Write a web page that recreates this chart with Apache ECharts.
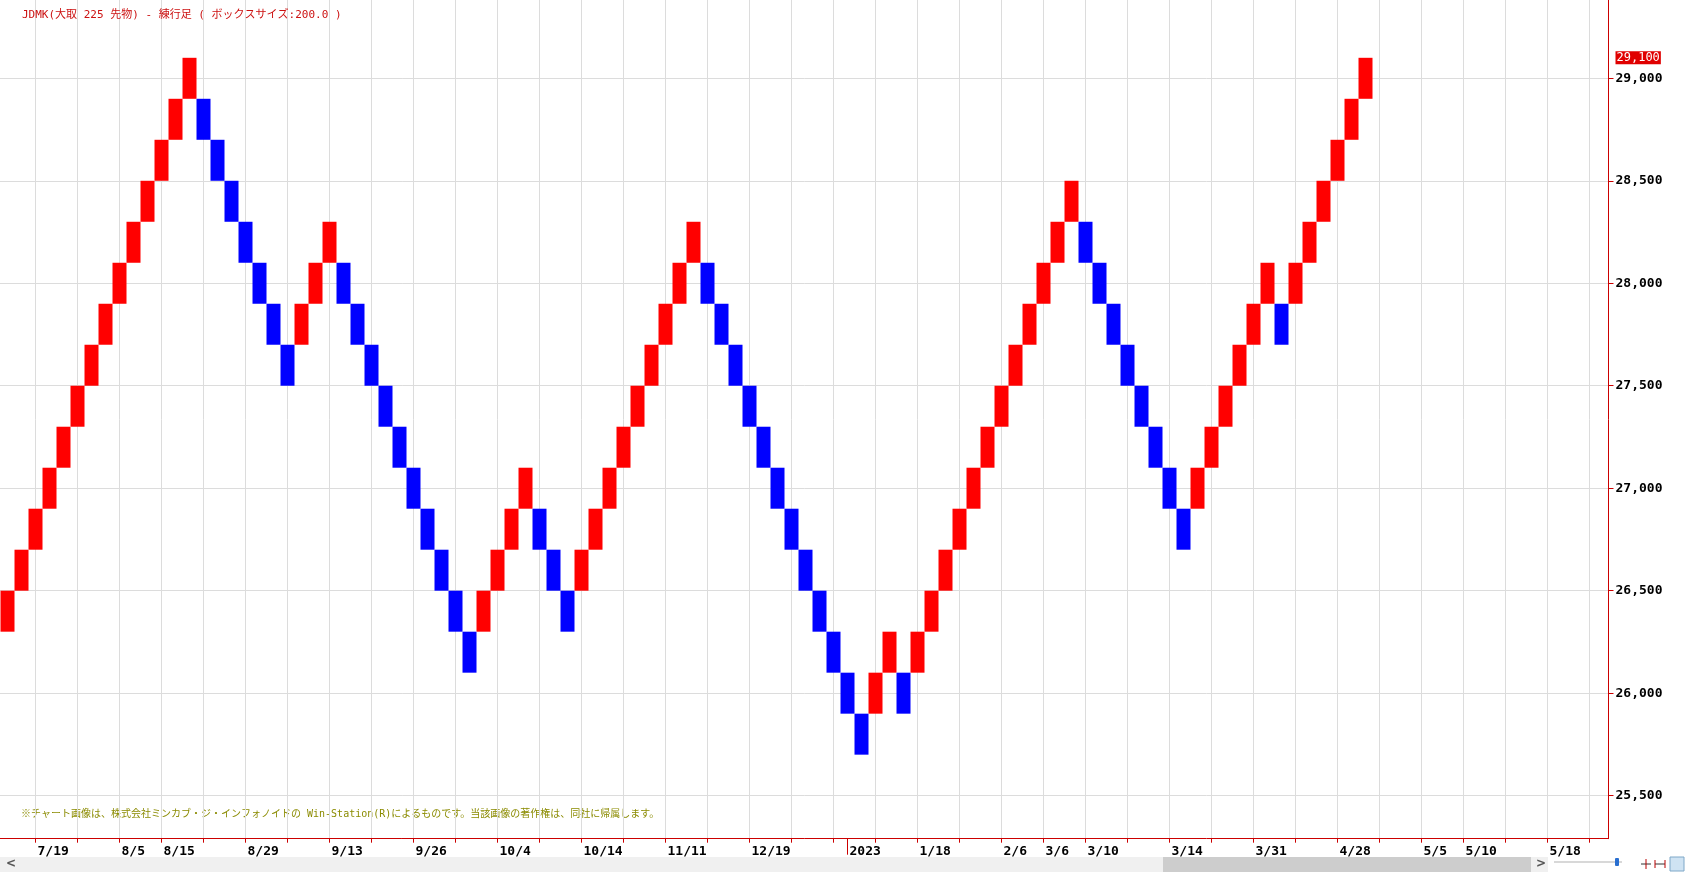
<!DOCTYPE html>
<html>
<head>
<meta charset="utf-8">
<script src="https://cdn.jsdelivr.net/npm/echarts@6/dist/echarts.min.js"></script>
<style>
html,body{margin:0;padding:0;background:#fff;}
#main{width:1685px;height:872px;}
</style>
</head>
<body>
<div id="main"></div>
<script>
// ---- data: renko bricks (box size 200) ----
const brickOpen = [
  26300,26500,26700,26900,27100,27300,27500,27700,27900,28100,28300,28500,28700,28900,
  28900,28700,28500,28300,28100,27900,27700,
  27700,27900,28100,
  28100,27900,27700,27500,27300,27100,26900,26700,26500,26300,
  26300,26500,26700,26900,
  26900,26700,26500,
  26500,26700,26900,27100,27300,27500,27700,27900,28100,
  28100,27900,27700,27500,27300,27100,26900,26700,26500,26300,26100,25900,
  25900,26100,
  26100,
  26100,26300,26500,26700,26900,27100,27300,27500,27700,27900,28100,28300,
  28300,28100,27900,27700,27500,27300,27100,26900,
  26900,27100,27300,27500,27700,27900,
  27900,
  27900,28100,28300,28500,28700,28900
];
const brickClose = [
  26500,26700,26900,27100,27300,27500,27700,27900,28100,28300,28500,28700,28900,29100,
  28700,28500,28300,28100,27900,27700,27500,
  27900,28100,28300,
  27900,27700,27500,27300,27100,26900,26700,26500,26300,26100,
  26500,26700,26900,27100,
  26700,26500,26300,
  26700,26900,27100,27300,27500,27700,27900,28100,28300,
  27900,27700,27500,27300,27100,26900,26700,26500,26300,26100,25900,25700,
  26100,26300,
  25900,
  26300,26500,26700,26900,27100,27300,27500,27700,27900,28100,28300,28500,
  28100,27900,27700,27500,27300,27100,26900,26700,
  27100,27300,27500,27700,27900,28100,
  27700,
  28100,28300,28500,28700,28900,29100
];
const yTickValues = [25500,26000,26500,27000,27500,28000,28500,29000];
const xTickIdx = [2,5,8,11,14,17,20,23,26,29,32,35,38,41,44,47,50,53,56,59,62,65,68,71,74,77,80,83,86,89,92,95,98,101,104,107,110,113];
const dateLabelIdx = [2,8,11,17,23,29,35,41,47,53,65,71,74,77,83,89,95,101,104,110];
const dateLabelText = ['7/19','8/5','8/15','8/29','9/13','9/26','10/4','10/14','11/11','12/19','1/18','2/6','3/6','3/10','3/14','3/31','4/28','5/5','5/10','5/18'];
const yearIdx = [60];
const yearText = ['2023'];
const titleText = 'JDMK(大取 225 先物) - 練行足 ( ボックスサイズ:200.0 )';
const noteText = '※チャート画像は、株式会社ミンカブ・ジ・インフォノイドの Win-Station(R)によるものです。当該画像の著作権は、同社に帰属します。';

const X_MIN = -0.536, X_MAX = 114.357;
const Y_MIN = 25290, Y_MAX = 29382;
const AXIS_RED = '#cc0000';
const MONO = '"DejaVu Sans Mono", "Liberation Mono", monospace';
const MONO_CJK = '"DejaVu Sans Mono", "Noto Sans CJK JP", monospace';

const bricks = brickOpen.map((o, i) => [i, o, brickClose[i]]);
const lastClose = brickClose[brickClose.length - 1];

const labelMap = {};
dateLabelIdx.forEach((v, i) => { labelMap[v] = dateLabelText[i]; });
const yearMap = {};
yearIdx.forEach((v, i) => { yearMap[v] = yearText[i]; });

const fmtNum = v => Math.round(v).toString().replace(/\B(?=(\d{3})+(?!\d))/g, ',');

const chart = echarts.init(document.getElementById('main'), null, {renderer: 'canvas'});
chart.setOption({
  backgroundColor: '#ffffff',
  animation: false,
  title: {
    text: titleText, left: 17, top: 5,
    textStyle: {color: '#cc1111', fontSize: 11, fontWeight: 'normal', fontFamily: MONO_CJK}
  },
  grid: {left: 0, top: 0, width: 1608.5, height: 838.7, containLabel: false},
  xAxis: [{
    type: 'value', min: X_MIN, max: X_MAX, position: 'bottom',
    axisLine: {show: true, onZero: false, lineStyle: {color: AXIS_RED, width: 1}},
    axisTick: {show: true, length: 4, inside: false, customValues: xTickIdx, lineStyle: {color: AXIS_RED}},
    splitLine: {show: true, lineStyle: {color: '#dcdcdc', width: 1}},
    axisLabel: {
      show: true, customValues: dateLabelIdx, align: 'left', margin: 6,
      formatter: v => labelMap[Math.round(v)] || '',
      color: '#000', fontWeight: 'bold', fontSize: 13, fontFamily: MONO, padding: [0, 0, 0, 2]
    }
  }, {
    type: 'value', min: X_MIN, max: X_MAX, position: 'bottom', offset: 0,
    axisLine: {show: false, onZero: false},
    axisTick: {show: true, length: 16, customValues: yearIdx, lineStyle: {color: AXIS_RED}},
    splitLine: {show: false},
    axisLabel: {
      show: true, customValues: yearIdx, align: 'left', margin: 6,
      formatter: v => yearMap[Math.round(v)] || '',
      color: '#000', fontWeight: 'bold', fontSize: 13, fontFamily: MONO, padding: [0, 0, 0, 2]
    }
  }],
  yAxis: [{
    type: 'value', min: Y_MIN, max: Y_MAX, position: 'right', scale: true,
    axisLine: {show: true, onZero: false, lineStyle: {color: AXIS_RED, width: 1}},
    axisTick: {show: true, length: 5, inside: false, customValues: yTickValues, lineStyle: {color: AXIS_RED}},
    splitLine: {show: true, lineStyle: {color: '#dcdcdc', width: 1}},
    axisLabel: {
      show: true, customValues: yTickValues, margin: 7,
      formatter: v => fmtNum(v),
      color: '#000', fontWeight: 'bold', fontSize: 13, fontFamily: MONO
    }
  }, {
    type: 'value', min: Y_MIN, max: Y_MAX, position: 'right', offset: 0, scale: true,
    axisLine: {show: false, onZero: false}, axisTick: {show: false}, splitLine: {show: false},
    axisLabel: {
      show: true, customValues: [lastClose], margin: 7,
      formatter: v => fmtNum(v),
      color: '#ffffff', backgroundColor: '#e00000', fontSize: 12, fontFamily: MONO,
      padding: [1, 1, 0, 1]
    }
  }],
  series: [{
    type: 'custom',
    name: 'renko',
    xAxisIndex: 0, yAxisIndex: 0,
    data: bricks,
    encode: {x: 0, y: [1, 2]},
    renderItem: function (params, api) {
      const i = api.value(0), o = api.value(1), c = api.value(2);
      const p1 = api.coord([i - 0.5, Math.max(o, c)]);
      const p2 = api.coord([i + 0.5, Math.min(o, c)]);
      return {
        type: 'rect',
        shape: {x: p1[0], y: p1[1], width: p2[0] - p1[0], height: p2[1] - p1[1]},
        style: {fill: c > o ? '#ff0000' : '#0000ff', stroke: null}
      };
    }
  }],
  graphic: [
    {type: 'text', left: 21, top: 809, silent: true,
     style: {text: noteText, fill: '#8b8b00', font: '10px ' + MONO_CJK}},
    // bottom scrollbar strip
    {type: 'rect', shape: {x: 0, y: 857, width: 1548, height: 15}, style: {fill: '#f0f0f0'}, silent: true},
    {type: 'rect', shape: {x: 1163, y: 857, width: 368, height: 15}, style: {fill: '#cdcdcd'}, silent: true},
    {type: 'text', x: 6, y: 858, style: {text: '<', fill: '#555', font: 'bold 12px "DejaVu Sans", sans-serif'}, silent: true},
    {type: 'text', x: 1536, y: 858, style: {text: '>', fill: '#555', font: 'bold 12px "DejaVu Sans", sans-serif'}, silent: true},
    {type: 'rect', shape: {x: 1548, y: 857, width: 137, height: 15}, style: {fill: '#ffffff'}, silent: true},
    {type: 'line', shape: {x1: 1554, y1: 862, x2: 1622, y2: 862}, style: {stroke: '#d8d8d8', lineWidth: 2}, silent: true},
    {type: 'rect', shape: {x: 1615, y: 858, width: 4, height: 8, r: 1}, style: {fill: '#2a6fd0'}, silent: true},
    {type: 'line', shape: {x1: 1641, y1: 864, x2: 1651, y2: 864}, style: {stroke: '#333', lineWidth: 1}, silent: true},
    {type: 'line', shape: {x1: 1646, y1: 859, x2: 1646, y2: 869}, style: {stroke: '#b00', lineWidth: 1}, silent: true},
    {type: 'line', shape: {x1: 1655, y1: 864, x2: 1665, y2: 864}, style: {stroke: '#333', lineWidth: 1}, silent: true},
    {type: 'line', shape: {x1: 1655, y1: 860, x2: 1655, y2: 868}, style: {stroke: '#b00', lineWidth: 1}, silent: true},
    {type: 'line', shape: {x1: 1665, y1: 860, x2: 1665, y2: 868}, style: {stroke: '#b00', lineWidth: 1}, silent: true},
    {type: 'rect', shape: {x: 1670, y: 857, width: 14, height: 14}, style: {fill: '#cfe3f3', stroke: '#7fa8c8'}, silent: true}
  ]
});
</script>
</body>
</html>
